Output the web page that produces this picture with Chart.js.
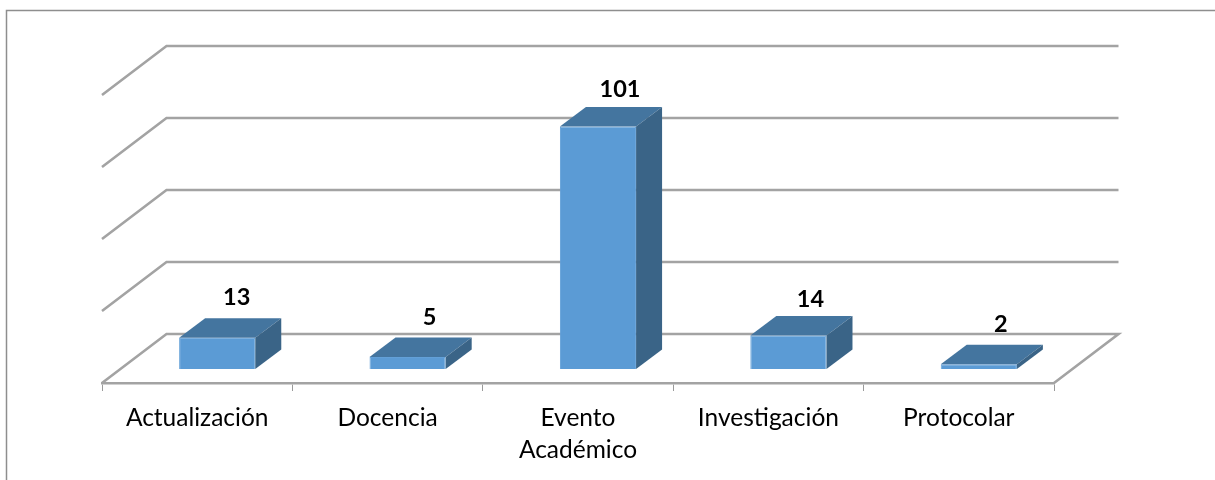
<!DOCTYPE html>
<html><head><meta charset="utf-8">
<style>html,body{margin:0;padding:0;background:#fff;overflow:hidden}canvas{display:block}</style>
<script src="https://cdn.jsdelivr.net/npm/chart.js@4/dist/chart.umd.min.js"></script>
</head><body><canvas id="c" width="1215" height="480"></canvas>
<script>
const categories = [["Actualización"], ["Docencia"], ["Evento", "Académico"], ["Investigación"], ["Protocolar"]];
const values = [13, 5, 101, 14, 2];
const yTicksMax = 120;
const yTickStep = 30;

const GRID = "#a3a3a3", FRONT = "#5b9bd5", TOP = "#44759f", SIDE = "#3a6487";
const WALL = {dx: 64.5, dy: -49}, BAR_OFF = {dx: 20, dy: -14}, BAR_D = {dx: 26, dy: -19.5};

function poly(ctx, pts, fill) {
  ctx.beginPath();
  pts.forEach((p, i) => i ? ctx.lineTo(p[0], p[1]) : ctx.moveTo(p[0], p[1]));
  ctx.closePath();
  ctx.fillStyle = fill;
  ctx.fill();
}
const box3d = {
  id: "box3d",
  beforeDraw(chart) {
    const ctx = chart.ctx;
    ctx.save();
    ctx.strokeStyle = "#8e8e8e";
    ctx.lineWidth = 1.5;
    ctx.strokeRect(6.5, 10.5, 1400, 600);
    ctx.restore();
  },
  beforeDatasetsDraw(chart) {
    const ctx = chart.ctx, a = chart.chartArea, y = chart.scales.y;
    ctx.save();
    ctx.strokeStyle = GRID;
    ctx.lineWidth = 2.6;
    ctx.lineJoin = "miter";
    y.ticks.forEach(t => {
      const py = y.getPixelForValue(t.value);
      ctx.beginPath();
      ctx.moveTo(a.left, py);
      ctx.lineTo(a.left + WALL.dx, py + WALL.dy);
      ctx.lineTo(a.right + WALL.dx, py + WALL.dy);
      if (t.value === 0) ctx.lineTo(a.right, py);
      ctx.stroke();
    });
    ctx.restore();
    ctx.save();
    ctx.translate(BAR_OFF.dx, BAR_OFF.dy);
  },
  afterDatasetsDraw(chart) {
    const ctx = chart.ctx;
    chart.getDatasetMeta(0).data.forEach(b => {
      const {x, y, base, width} = b.getProps(["x", "y", "base", "width"], true);
      const l = x - width / 2, r = x + width / 2;
      poly(ctx, [[l, y], [r, y], [r + BAR_D.dx, y + BAR_D.dy], [l + BAR_D.dx, y + BAR_D.dy]], TOP);
      poly(ctx, [[r, y], [r + BAR_D.dx, y + BAR_D.dy], [r + BAR_D.dx, base + BAR_D.dy], [r, base]], SIDE);
    });
    ctx.restore();
    ctx.save();
    ctx.font = "bold 23.5px Lato";
    ctx.fillStyle = "#000";
    ctx.textAlign = "center";
    ctx.textBaseline = "middle";
    const nudge = [[-2.5, 0], [0, 0], [0, 3], [0, 4], [0, 0]];
    chart.getDatasetMeta(0).data.forEach((b, i) => {
      ctx.fillText(String(values[i]), b.x + BAR_OFF.dx + 22 + nudge[i][0], b.y + BAR_OFF.dy - 40 + nudge[i][1]);
    });
    ctx.restore();
  }
};

new Chart(document.getElementById("c"), {
  type: "bar",
  data: {
    labels: categories,
    datasets: [{
      data: values,
      backgroundColor: FRONT,
      borderColor: "#63a0d8",
      borderWidth: 1,
      barPercentage: 0.8,
      categoryPercentage: 0.5,
      clip: false
    }]
  },
  plugins: [box3d],
  options: {
    responsive: false,
    animation: false,
    layout: {padding: {left: 102, right: 161, top: 95, bottom: 0}},
    plugins: {legend: {display: false}, tooltip: {enabled: false}, title: {display: false}},
    scales: {
      x: {
        offset: true,
        afterFit(s) { s.height = 97; },
        grid: {drawOnChartArea: false, drawTicks: true, tickLength: 8, tickWidth: 1, tickColor: "#9a9a9a", offset: true},
        border: {display: true, color: GRID, width: 2.6},
        ticks: {
          color: "#000", padding: 12, maxRotation: 0, autoSkip: false,
          font: {family: "Lato", size: 24.5, lineHeight: 1.27}
        }
      },
      y: {
        min: 0, max: yTicksMax,
        afterFit(s) { s.width = 0; },
        ticks: {display: false, stepSize: yTickStep},
        grid: {display: false},
        border: {display: false}
      }
    }
  }
});
</script>
</body></html>
